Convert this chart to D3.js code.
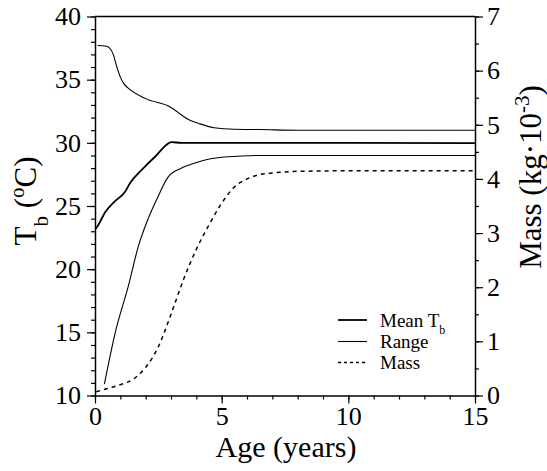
<!DOCTYPE html>
<html>
<head>
<meta charset="utf-8">
<script src="https://cdn.jsdelivr.net/npm/d3@7"></script>
<style>
  html, body { margin: 0; padding: 0; background: #fff; }
  svg { display: block; }
</style>
</head>
<body>
<svg id="chart" width="547" height="471"></svg>
<script>
// ---- data ----
const ageRangeMax = [0.1, 0.45, 0.6, 0.72, 0.85, 1.0, 1.15, 1.3, 2.0, 3.0, 3.25, 3.6, 4.15, 4.7, 5.5, 6.5, 8, 10, 12, 15];
const rangeMax    = [37.7, 37.65, 37.45, 37.0, 36.1, 35.2, 34.65, 34.35, 33.5, 32.8, 32.45, 31.95, 31.5, 31.2, 31.07, 31.05, 31.0, 31.0, 31.0, 31.0];

const ageMean = [0.03, 0.13, 0.4, 0.8, 1.18, 1.38, 1.84, 2.37, 3.03, 3.4, 5, 10, 15];
const meanTb  = [23.2, 23.5, 24.5, 25.4, 26.1, 26.8, 27.85, 28.9, 30.05, 30.0, 30.0, 30.0, 29.97];

const ageRangeMin = [0.37, 0.79, 1.32, 1.71, 2.1, 2.5, 2.89, 3.42, 3.95, 4.47, 5.26, 6.5, 10, 15];
const rangeMin    = [10.9, 14.9, 18.7, 21.8, 24.0, 25.8, 27.3, 28.0, 28.4, 28.7, 28.9, 29.0, 29.0, 29.0];

const ageMass = [0.05, 0.5, 1, 1.5, 2, 2.5, 3, 3.5, 4, 4.5, 5, 5.5, 6, 6.5, 7, 8, 10, 15];
const mass    = [0.07, 0.13, 0.2, 0.3, 0.52, 0.9, 1.5, 2.15, 2.7, 3.15, 3.55, 3.85, 4.0, 4.08, 4.11, 4.14, 4.15, 4.15];

const xTicks = [0, 5, 10, 15];
const yTicks = [10, 15, 20, 25, 30, 35, 40];
const y2Ticks = [0, 1, 2, 3, 4, 5, 6, 7];
const legendLabels = ["Mean T", "Range", "Mass"];

// ---- layout ----
const FONT = "Liberation Serif";
const svg = d3.select("#chart");
const L = 95, R = 475, T = 16.5, B = 395.5;

const x = d3.scaleLinear().domain([0, 15]).range([L, R]);
const y = d3.scaleLinear().domain([10, 40]).range([B, T]);
const y2 = d3.scaleLinear().domain([0, 7]).range([B, T]);

const FS = 26;

// minor ticks
svg.append("g").attr("transform", `translate(${L},0)`)
  .call(d3.axisLeft(y).tickValues(d3.range(10, 41, 1)).tickSize(4).tickFormat("").tickSizeOuter(0))
  .call(g => g.select(".domain").remove());
svg.append("g").attr("transform", `translate(${R},0)`)
  .call(d3.axisRight(y2).tickValues(d3.range(0, 7.01, 0.5)).tickSize(4).tickFormat("").tickSizeOuter(0))
  .call(g => g.select(".domain").remove());
svg.append("g").attr("transform", `translate(0,${B})`)
  .call(d3.axisBottom(x).tickValues(d3.range(0, 16, 1)).tickSize(4).tickFormat("").tickSizeOuter(0))
  .call(g => g.select(".domain").remove());

// major axes
const gl = svg.append("g").attr("transform", `translate(${L},0)`)
  .call(d3.axisLeft(y).tickValues(yTicks).tickFormat(d3.format("d")).tickSize(8).tickPadding(6).tickSizeOuter(0));
const gr = svg.append("g").attr("transform", `translate(${R},0)`)
  .call(d3.axisRight(y2).tickValues(y2Ticks).tickFormat(d3.format("d")).tickSize(8).tickPadding(4).tickSizeOuter(0));
const gb = svg.append("g").attr("transform", `translate(0,${B})`)
  .call(d3.axisBottom(x).tickValues(xTicks).tickFormat(d3.format("d")).tickSize(8).tickPadding(3).tickSizeOuter(0));

[gl, gr, gb].forEach(g => {
  g.attr("font-family", FONT).attr("font-size", FS);
  g.selectAll("text").attr("fill", "#000").attr("font-family", FONT).attr("font-size", FS);
  g.select(".domain").attr("stroke", "#000").attr("stroke-width", 1.5);
});
svg.selectAll("g line").attr("stroke", "#000").attr("stroke-width", 1.2);

// top frame line
svg.append("line").attr("x1", L).attr("x2", R).attr("y1", T).attr("y2", T)
  .attr("stroke", "#000").attr("stroke-width", 1.5);

// ---- lines ----
const line = d3.line().x(d => x(d[0])).y(d => d[1]).curve(d3.curveMonotoneX);
const zipT = (a, b) => a.map((v, i) => [v, y(b[i])]);
const zipM = (a, b) => a.map((v, i) => [v, y2(b[i])]);

svg.append("path").attr("d", line(zipT(ageRangeMax, rangeMax)))
  .attr("fill", "none").attr("stroke", "#000").attr("stroke-width", 1.1);
svg.append("path").attr("d", line(zipT(ageRangeMin, rangeMin)))
  .attr("fill", "none").attr("stroke", "#000").attr("stroke-width", 1.1);
svg.append("path").attr("d", line(zipT(ageMean, meanTb)))
  .attr("fill", "none").attr("stroke", "#000").attr("stroke-width", 1.8);
svg.append("path").attr("d", line(zipM(ageMass, mass)))
  .attr("fill", "none").attr("stroke", "#000").attr("stroke-width", 1.5)
  .attr("stroke-dasharray", "4,4");

// ---- axis titles ----
svg.append("text").attr("x", (L + R) / 2 + 1).attr("y", 457)
  .attr("text-anchor", "middle").attr("font-family", FONT).attr("font-size", 30).text("Age (years)");

const lt = svg.append("text")
  .attr("transform", `translate(36,201) rotate(-90)`)
  .attr("text-anchor", "middle").attr("font-family", FONT).attr("font-size", 31);
lt.append("tspan").text("T");
lt.append("tspan").attr("baseline-shift", "sub").attr("font-size", 21).text("b");
lt.append("tspan").text(" (");
lt.append("tspan").attr("baseline-shift", "super").attr("font-size", 21).text("o");
lt.append("tspan").text("C)");

const rt = svg.append("text")
  .attr("transform", `translate(541,177) rotate(-90)`)
  .attr("text-anchor", "middle").attr("font-family", FONT).attr("font-size", 31);
rt.append("tspan").text("Mass (kg·10");
rt.append("tspan").attr("baseline-shift", "super").attr("font-size", 21).text("-3");
rt.append("tspan").text(")");

// ---- legend ----
const legY = [320, 341.5, 362.5];
const legStyles = [
  { w: 1.8, dash: null },
  { w: 1.1, dash: null },
  { w: 1.3, dash: "3,3" }
];
legendLabels.forEach((lab, i) => {
  svg.append("line").attr("x1", 338).attr("x2", 367).attr("y1", legY[i]).attr("y2", legY[i])
    .attr("stroke", "#000").attr("stroke-width", legStyles[i].w)
    .attr("stroke-dasharray", legStyles[i].dash);
  const t = svg.append("text").attr("x", 380).attr("y", legY[i] + 6.5)
    .attr("font-family", FONT).attr("font-size", 19);
  t.append("tspan").text(lab);
  if (i === 0) t.append("tspan").attr("baseline-shift", "sub").attr("font-size", 12).text("b");
});
</script>
</body>
</html>
